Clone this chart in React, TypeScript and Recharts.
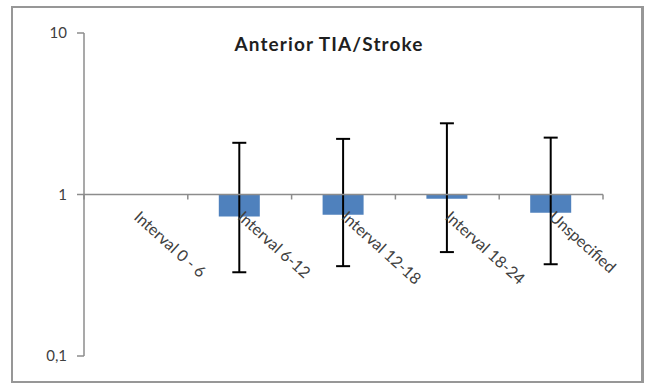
import React from "react";
import { BarChart, Bar, XAxis, YAxis, ReferenceLine } from "recharts";

// Relative risk per follow-up interval, with 95% confidence limits
const CATEGORIES = ["Interval 0 - 6", "Interval 6-12", "Interval 12-18", "Interval 18-24", "Unspecified"];
const ESTIMATES: (number | null)[] = [null, 0.73, 0.75, 0.94, 0.77];
const CI_LOWER: (number | null)[] = [null, 0.33, 0.36, 0.44, 0.37];
const CI_UPPER: (number | null)[] = [null, 2.09, 2.21, 2.76, 2.25];

const Y_TICKS = [0.1, 1, 10];
const Y_TICK_LABELS = ["0,1", "1", "10"];
const TITLE = "Anterior TIA/Stroke";

const rows = CATEGORIES.map((name, i) => ({
  name,
  est: ESTIMATES[i],
  lo: CI_LOWER[i],
  hi: CI_UPPER[i],
}));

const W = 645;
const H = 383;
const FONT = "Lato, 'Liberation Sans', sans-serif";
const AXIS_GRAY = "#8c8c8c";
const TEXT_GRAY = "#404040";
const BAR_BLUE = "#4f81bd";
const LABEL_ANGLE = 42;

function Whisker(props: any) {
  const { x, y, width, height } = props;
  if (![x, y, width, height].every((v) => Number.isFinite(v)) || height <= 0) return null;
  const cx = x + width / 2;
  const cap = 7;
  return (
    <g stroke="#000" strokeWidth={2}>
      <line x1={cx} x2={cx} y1={y} y2={y + height} />
      <line x1={cx - cap} x2={cx + cap} y1={y} y2={y} />
      <line x1={cx - cap} x2={cx + cap} y1={y + height} y2={y + height} />
    </g>
  );
}

// Category axis drawn where the value axis crosses at 1
function CategoryAxis(props: any) {
  const vb = props.viewBox;
  if (!vb) return null;
  const n = CATEGORIES.length;
  const band = vb.width / n;
  const y0 = vb.y;
  return (
    <g>
      {Array.from({ length: n + 1 }, (_, i) => (
        <line
          key={"t" + i}
          x1={vb.x + i * band}
          x2={vb.x + i * band}
          y1={y0}
          y2={y0 + 5}
          stroke={AXIS_GRAY}
          strokeWidth={1.5}
        />
      ))}
      {CATEGORIES.map((c, i) => {
        const ax = vb.x + (i + 0.5) * band - 3;
        const ay = y0 + 24;
        return (
          <text
            key={"l" + i}
            x={ax}
            y={ay}
            transform={`rotate(${LABEL_ANGLE} ${ax} ${ay})`}
            textAnchor="start"
            fontFamily={FONT}
            fontSize={16}
            fill={TEXT_GRAY}
          >
            {c}
          </text>
        );
      })}
    </g>
  );
}

export default function App() {
  return (
    <div style={{ position: "absolute", left: 0, top: 0, width: W, height: H, background: "#fff" }}>
      <div
        style={{
          position: "absolute",
          left: 11,
          top: 6,
          width: 628,
          height: 373,
          border: "2px solid #979797",
          borderRightWidth: 3,
          boxSizing: "content-box",
        }}
      />
      <div
        style={{
          position: "absolute",
          left: 0,
          width: 658,
          top: 33,
          textAlign: "center",
          fontFamily: FONT,
          fontWeight: 700,
          fontSize: 19,
          letterSpacing: 1.1,
          color: "#1f1f1f",
          lineHeight: "22px",
        }}
      >
        {TITLE}
      </div>
      <div style={{ position: "absolute", left: 0, top: 0 }}>
        <BarChart
          width={W}
          height={H}
          data={rows}
          margin={{ top: 33, right: 42, left: 0, bottom: 27 }}
        >
          <XAxis dataKey="name" hide />
          <XAxis dataKey="name" xAxisId="err" hide />
          <YAxis
            type="number"
            scale="log"
            domain={[0.1, 10]}
            ticks={Y_TICKS}
            interval={0}
            allowDataOverflow
            width={84}
            axisLine={{ stroke: AXIS_GRAY, strokeWidth: 1.5 }}
            tickLine={{ stroke: AXIS_GRAY, strokeWidth: 1.5 }}
            tickSize={7}
            tickMargin={10}
            tick={{ fill: TEXT_GRAY, fontSize: 15, fontFamily: FONT }}
            tickFormatter={(v: number) => Y_TICK_LABELS[Y_TICKS.indexOf(v)]}
          />
          <Bar
            dataKey={(d: any) => (d.est == null ? null : [d.est, 1])}
            fill={BAR_BLUE}
            barSize={41}
            isAnimationActive={false}
          />
          <Bar
            xAxisId="err"
            dataKey={(d: any) => (d.lo == null ? null : [d.lo, d.hi])}
            barSize={41}
            fill="none"
            shape={<Whisker />}
            isAnimationActive={false}
          />
          <ReferenceLine
            y={1}
            stroke={AXIS_GRAY}
            strokeWidth={1.5}
            label={(p: any) => <CategoryAxis {...p} />}
          />
        </BarChart>
      </div>
    </div>
  );
}
